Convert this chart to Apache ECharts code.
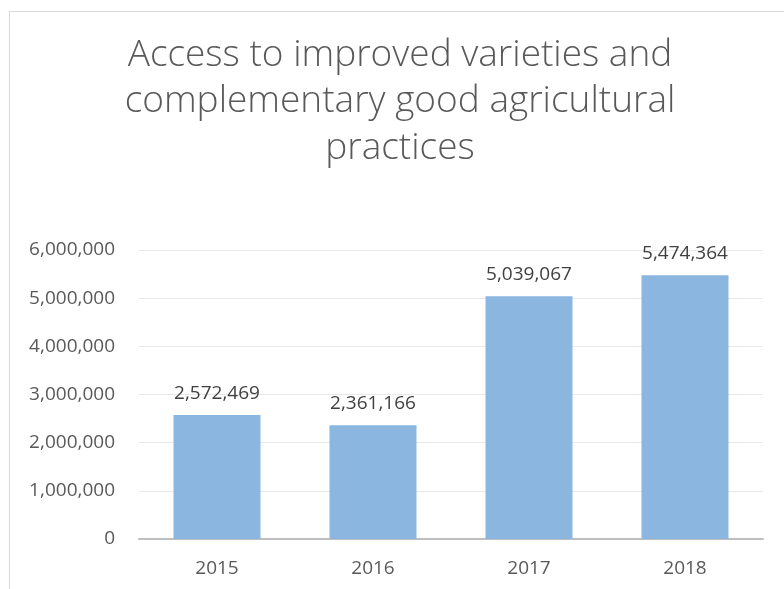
<!DOCTYPE html>
<html>
<head>
<meta charset="utf-8">
<script src="https://cdn.jsdelivr.net/npm/echarts@6/dist/echarts.min.js"></script>
<style>
  html, body { margin: 0; padding: 0; background: #ffffff; }
  #wrap { position: relative; width: 784px; height: 589px; overflow: hidden; }
  #frame { position: absolute; left: 9px; top: 11px; width: 820px; height: 620px;
           border: 1px solid #d9d9d9; box-sizing: border-box; }
  #chart { position: absolute; left: 0; top: 0; width: 784px; height: 589px; }
</style>
</head>
<body>
<div id="wrap">
  <div id="frame"></div>
  <div id="chart"></div>
</div>
<script>
// Beneficiaries reached per year
const years = ['2015', '2016', '2017', '2018'];
const reached = [2572469, 2361166, 5039067, 5474364];
const yTicks = [0, 1000000, 2000000, 3000000, 4000000, 5000000, 6000000];
const titleText = 'Access to improved varieties and\ncomplementary good agricultural\npractices';

const fmt = v => Number(v).toLocaleString('en-US');
const FONT = '"Open Sans", "Liberation Sans", sans-serif';

const chart = echarts.init(document.getElementById('chart'), null, { renderer: 'canvas' });
chart.setOption({
  backgroundColor: 'transparent',
  animation: false,
  title: {
    text: titleText,
    left: 400,
    top: 32,
    padding: 0,
    textAlign: 'center',
    textStyle: {
      fontFamily: FONT,
      fontWeight: 300,
      fontSize: 37,
      lineHeight: 46.5,
      color: '#595959'
    }
  },
  grid: { left: 139, right: 21, top: 250, bottom: 50, containLabel: false },
  xAxis: {
    type: 'category',
    data: years,
    axisLine: { lineStyle: { color: '#bfbfbf', width: 2 } },
    axisTick: { show: false },
    axisLabel: { fontFamily: FONT, fontSize: 19, color: '#595959', margin: 20 }
  },
  yAxis: {
    type: 'value',
    min: yTicks[0],
    max: yTicks[yTicks.length - 1],
    interval: yTicks[1] - yTicks[0],
    axisLine: { show: false },
    axisTick: { show: false },
    splitLine: { lineStyle: { color: '#e8e8e8', width: 1 } },
    axisLabel: { fontFamily: FONT, fontSize: 19, color: '#595959', margin: 24, formatter: fmt }
  },
  series: [{
    type: 'bar',
    data: reached,
    barWidth: 87,
    itemStyle: { color: '#8ab6e0' },
    label: {
      show: true,
      position: 'top',
      distance: 12,
      fontFamily: FONT,
      fontSize: 19,
      color: '#404040',
      formatter: p => fmt(p.value)
    }
  }]
});
</script>
</body>
</html>
